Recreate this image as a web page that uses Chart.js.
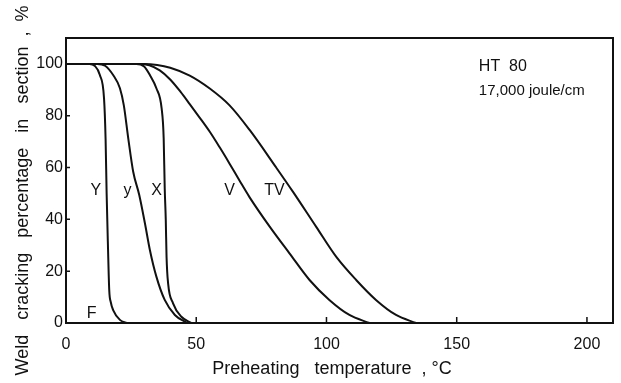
<!DOCTYPE html>
<html>
<head>
<meta charset="utf-8">
<script src="https://cdn.jsdelivr.net/npm/chart.js"></script>
<style>
    html, body { margin: 0; padding: 0; background: #fff; }
</style>
</head>
<body>
<canvas id="crack_graph" width="621" height="383"></canvas>
<script>

// tick values on both axes
const xTicks = [0, 50, 100, 150, 200];
const yTicks = [0, 20, 40, 60, 80, 100];

// curve Y
const bigYTemp = [0, 9, 11, 13, 14.6, 15.2, 15.6, 16.1, 16.6, 17.2, 18.1, 20.7, 23.3];
const bigYPct  = [100, 100, 99.3, 95.7, 86.7, 71, 50, 30, 12.7, 8, 5, 1.2, 0];

// curve y
const smallYTemp = [0, 12, 15, 18.1, 20.7, 22.2, 23.9, 25.8, 28.1, 30.3, 32.2, 34.7, 37.9, 41.8, 46.5];
const smallYPct  = [100, 100, 99.3, 95.7, 90.6, 84, 71.3, 58.4, 49.5, 38.5, 28.2, 17.9, 8.9, 3.1, 0];

// curve X
const xTemp = [0, 27, 30, 32.2, 34.7, 36.7, 37.5, 37.9, 38.3, 38.6, 39.2, 41.1, 44.3, 48.2];
const xPct  = [100, 100, 99, 95.7, 90.6, 82.9, 71.3, 52, 40, 25.6, 15.3, 7.6, 2.4, 0];

// curve V
const vTemp = [0, 28, 32, 36, 40, 44, 47.5, 51.3, 55.2, 59, 62.8, 66.6, 70.5, 78.2, 85.8, 93.5, 101.1, 108.8, 116.5];
const vPct  = [100, 100, 99.5, 97.5, 94, 89.2, 84.5, 79.3, 73.8, 67.8, 61.5, 55, 48.5, 37.2, 26.9, 16.6, 8.9, 3.1, 0];

// curve TV
const tvTemp = [0, 30, 35, 40, 47.5, 55.2, 62.8, 70.5, 80.7, 87.1, 96, 103.7, 111.4, 119, 126.7, 134.4];
const tvPct  = [100, 100, 99.6, 98.5, 95.5, 90.5, 84, 74.5, 60, 50.7, 37.2, 25.6, 16.6, 8.9, 3.1, 0];

const FONT = '"Liberation Sans", Arial, sans-serif';
const INK = '#111';

document.addEventListener('DOMContentLoaded', function() {
    drawGraph();
})


function toPoints(temps, pcts){
    return temps.map((t, i) => ({ x: t, y: pcts[i] }));
}

function curve(label, temps, pcts){
    return {
        label: label,
        data: toPoints(temps, pcts),
        borderColor: INK,
        borderWidth: 2,
        pointRadius: 0,
        fill: false,
        cubicInterpolationMode: 'monotone'
    };
}

// text written inside the plot, placed in data units
const curveNotes = [
    { text: 'Y',  x: 11.5, y: 51 },
    { text: 'y',  x: 23.6, y: 51 },
    { text: 'X',  x: 34.8, y: 51 },
    { text: 'V',  x: 62.8, y: 51 },
    { text: 'TV', x: 80,   y: 51 },
    { text: 'F',  x: 9.8,  y: 3.8 }
];

const boxNotes = [
    { text: 'HT  80',           x: 158.5, y: 99, size: 16 },
    { text: '17,000 joule/cm',  x: 158.5, y: 89.5, size: 15 }
];

// frame, inward ticks and notes
const framePlugin = {
    id: 'frame',
    afterDraw(chart){
        const ctx = chart.ctx;
        const a = chart.chartArea;
        const xs = chart.scales.x;
        const ys = chart.scales.y;

        ctx.save();
        ctx.strokeStyle = INK;
        ctx.lineWidth = 2;
        ctx.strokeRect(a.left, a.top, a.right - a.left, a.bottom - a.top);

        ctx.lineWidth = 1.5;
        ctx.beginPath();
        xTicks.forEach(v => {
            if (v === 0) return;
            const px = xs.getPixelForValue(v);
            ctx.moveTo(px, a.bottom);
            ctx.lineTo(px, a.bottom - 6);
        });
        yTicks.forEach(v => {
            if (v === 0) return;
            const py = ys.getPixelForValue(v);
            ctx.moveTo(a.left, py);
            ctx.lineTo(a.left + 4, py);
        });
        ctx.stroke();

        ctx.fillStyle = INK;
        ctx.font = '16px ' + FONT;
        ctx.textBaseline = 'middle';
        ctx.textAlign = 'center';
        curveNotes.forEach(n => {
            ctx.fillText(n.text, xs.getPixelForValue(n.x), ys.getPixelForValue(n.y));
        });

        ctx.textAlign = 'left';
        boxNotes.forEach(n => {
            ctx.font = n.size + 'px ' + FONT;
            ctx.fillText(n.text, xs.getPixelForValue(n.x), ys.getPixelForValue(n.y));
        });
        ctx.restore();
    }
};


function drawGraph(){

    const canvas = document.getElementById('crack_graph');

    new Chart(canvas, {
        type: 'line',
        data: {
            datasets: [
                curve('Y', bigYTemp, bigYPct),
                curve('y', smallYTemp, smallYPct),
                curve('X', xTemp, xPct),
                curve('V', vTemp, vPct),
                curve('TV', tvTemp, tvPct)
            ]
        },
        options: {
            responsive: false,
            animation: false,
            devicePixelRatio: 1,
            layout: { padding: { top: 38, right: 8, left: 0, bottom: 0 } },
            plugins: {
                legend: { display: false },
                tooltip: { enabled: false }
            },
            scales: {
                x: {
                    type: 'linear',
                    min: 0,
                    max: 210,
                    afterFit(scale){ scale.height = 60; },
                    grid: { display: false, drawTicks: false },
                    border: { display: false },
                    ticks: {
                        stepSize: 50,
                        includeBounds: false,
                        maxRotation: 0,
                        padding: 12,
                        color: INK,
                        font: { size: 16, family: FONT }
                    },
                    title: {
                        display: true,
                        text: 'Preheating   temperature  , °C   ',
                        color: INK,
                        font: { size: 18, family: FONT },
                        padding: { top: 0, bottom: 3 }
                    }
                },
                y: {
                    min: 0,
                    max: 110,
                    afterFit(scale){ scale.width = 66; },
                    grid: { display: false, drawTicks: false },
                    border: { display: false },
                    ticks: {
                        stepSize: 20,
                        includeBounds: false,
                        padding: 3,
                        color: INK,
                        font: { size: 16, family: FONT }
                    },
                    title: {
                        display: true,
                        text: 'Weld   cracking   percentage   in   section  ,  %    ',
                        color: INK,
                        font: { size: 18, family: FONT },
                        padding: { top: 12, bottom: 0 }
                    }
                }
            }
        },
        plugins: [framePlugin]
    });
}

</script>
</body>
</html>
